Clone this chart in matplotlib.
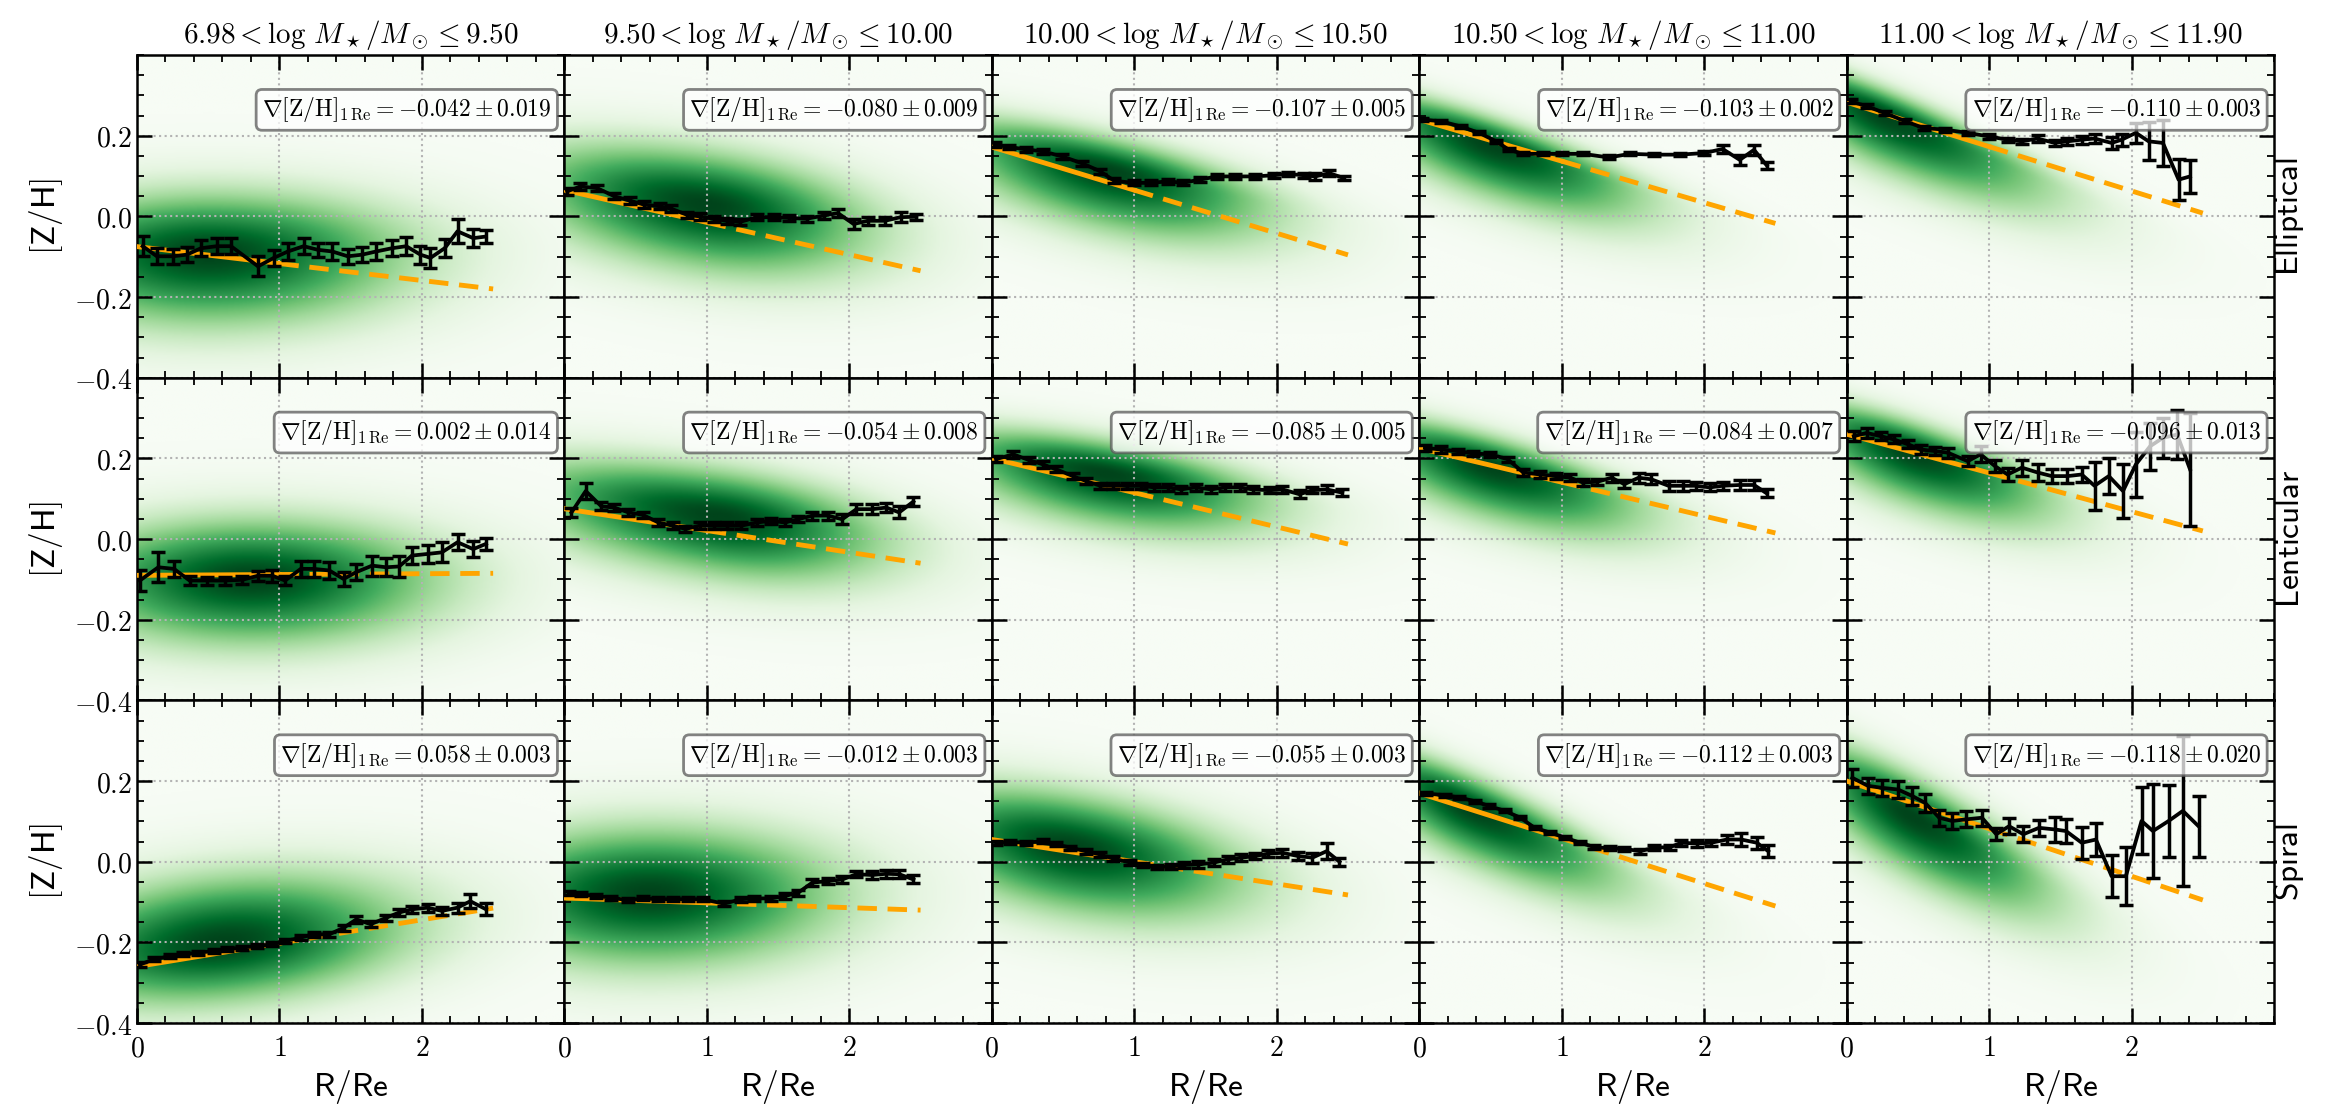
import numpy as np
import matplotlib
matplotlib.use('Agg')
import matplotlib.pyplot as plt
from matplotlib.ticker import MultipleLocator, FixedLocator, FuncFormatter

plt.rcParams['mathtext.fontset'] = 'cm'

mass_edges = ['6.98', '9.50', '10.00', '10.50', '11.00', '11.90']
morph = ['Elliptical', 'Lenticular', 'Spiral']

# gradient within 1 Re (slope of the orange fit) and its error
grad = [[-0.042, -0.080, -0.107, -0.103, -0.110],
        [0.002, -0.054, -0.085, -0.084, -0.096],
        [0.058, -0.012, -0.055, -0.112, -0.118]]
grad_err = [[0.019, 0.009, 0.005, 0.002, 0.003],
            [0.014, 0.008, 0.005, 0.007, 0.013],
            [0.003, 0.003, 0.003, 0.003, 0.020]]
# fit value at R = 0
fit_zero = [[-0.075, 0.065, 0.172, 0.240, 0.283],
            [-0.090, 0.075, 0.200, 0.225, 0.260],
            [-0.260, -0.090, 0.055, 0.170, 0.200]]

# median profiles
ell_x = [[0.04, 0.14, 0.25, 0.35, 0.45, 0.56, 0.66, 0.85, 0.96, 1.06, 1.17, 1.27, 1.37, 1.48, 1.58, 1.68, 1.79, 1.89, 1.99, 2.06, 2.16, 2.25, 2.36, 2.45],
         [0.02, 0.11, 0.23, 0.35, 0.46, 0.56, 0.67, 0.75, 0.86, 0.95, 1.05, 1.14, 1.23, 1.35, 1.47, 1.58, 1.70, 1.82, 1.92, 2.03, 2.13, 2.25, 2.36, 2.47],
         [0.02, 0.12, 0.24, 0.36, 0.49, 0.63, 0.76, 0.86, 1.0, 1.12, 1.24, 1.34, 1.46, 1.58, 1.71, 1.85, 1.98, 2.08, 2.19, 2.27, 2.37, 2.47],
         [0.02, 0.15, 0.29, 0.42, 0.54, 0.63, 0.73, 0.87, 1.0, 1.15, 1.33, 1.48, 1.65, 1.83, 2.0, 2.13, 2.25, 2.35, 2.44],
         [0.03, 0.14, 0.27, 0.41, 0.54, 0.69, 0.85, 1.0, 1.13, 1.23, 1.34, 1.46, 1.55, 1.65, 1.74, 1.86, 1.93, 2.03, 2.12, 2.22, 2.33, 2.41]]
ell_y = [[-0.074, -0.099, -0.099, -0.095, -0.079, -0.074, -0.074, -0.124, -0.103, -0.087, -0.074, -0.083, -0.087, -0.099, -0.095, -0.087, -0.079, -0.074, -0.095, -0.103, -0.079, -0.037, -0.054, -0.050],
         [0.062, 0.074, 0.070, 0.050, 0.039, 0.029, 0.025, 0.019, 0.004, 0.0, -0.006, -0.011, -0.014, -0.002, -0.002, -0.004, -0.006, 0.002, 0.008, -0.019, -0.011, -0.011, -0.002, -0.001],
         [0.178, 0.172, 0.166, 0.161, 0.149, 0.132, 0.112, 0.088, 0.083, 0.083, 0.087, 0.083, 0.091, 0.099, 0.099, 0.099, 0.102, 0.105, 0.102, 0.099, 0.107, 0.095],
         [0.240, 0.236, 0.223, 0.207, 0.186, 0.165, 0.155, 0.155, 0.155, 0.155, 0.146, 0.155, 0.153, 0.153, 0.157, 0.167, 0.140, 0.165, 0.126],
         [0.285, 0.273, 0.256, 0.236, 0.219, 0.215, 0.207, 0.198, 0.190, 0.186, 0.193, 0.182, 0.186, 0.190, 0.193, 0.182, 0.190, 0.207, 0.186, 0.182, 0.091, 0.099]]
ell_e = [[0.025, 0.02, 0.018, 0.018, 0.02, 0.02, 0.02, 0.025, 0.02, 0.02, 0.02, 0.018, 0.02, 0.018, 0.018, 0.02, 0.02, 0.022, 0.022, 0.025, 0.022, 0.03, 0.022, 0.015],
         [0.008, 0.008, 0.008, 0.008, 0.008, 0.008, 0.008, 0.008, 0.008, 0.008, 0.008, 0.008, 0.008, 0.008, 0.008, 0.008, 0.008, 0.008, 0.01, 0.012, 0.01, 0.01, 0.012, 0.008],
         [0.006, 0.006, 0.006, 0.006, 0.006, 0.006, 0.006, 0.006, 0.006, 0.006, 0.006, 0.006, 0.006, 0.006, 0.006, 0.006, 0.006, 0.006, 0.006, 0.008, 0.008, 0.006],
         [0.004, 0.004, 0.004, 0.004, 0.004, 0.004, 0.004, 0.004, 0.004, 0.004, 0.005, 0.004, 0.004, 0.004, 0.005, 0.01, 0.012, 0.013, 0.009],
         [0.005, 0.005, 0.005, 0.005, 0.005, 0.005, 0.005, 0.005, 0.005, 0.006, 0.008, 0.008, 0.008, 0.010, 0.010, 0.015, 0.015, 0.025, 0.047, 0.058, 0.05, 0.041]]

len_x = [[0.02, 0.15, 0.26, 0.37, 0.49, 0.62, 0.74, 0.85, 0.95, 1.04, 1.15, 1.24, 1.35, 1.45, 1.54, 1.65, 1.75, 1.84, 1.93, 2.04, 2.14, 2.25, 2.36, 2.45],
         [0.05, 0.15, 0.26, 0.35, 0.45, 0.55, 0.66, 0.76, 0.85, 0.95, 1.05, 1.14, 1.24, 1.35, 1.45, 1.55, 1.64, 1.74, 1.85, 1.95, 2.05, 2.16, 2.26, 2.35, 2.45],
         [0.03, 0.15, 0.26, 0.36, 0.45, 0.57, 0.66, 0.76, 0.85, 0.95, 1.05, 1.14, 1.24, 1.33, 1.43, 1.54, 1.64, 1.74, 1.83, 1.95, 2.04, 2.16, 2.25, 2.35, 2.46],
         [0.04, 0.15, 0.27, 0.38, 0.5, 0.62, 0.73, 0.85, 0.96, 1.06, 1.15, 1.25, 1.35, 1.44, 1.54, 1.63, 1.75, 1.85, 1.94, 2.04, 2.13, 2.25, 2.35, 2.44],
         [0.05, 0.14, 0.24, 0.33, 0.43, 0.52, 0.62, 0.71, 0.85, 0.94, 1.04, 1.13, 1.23, 1.34, 1.44, 1.55, 1.65, 1.74, 1.84, 1.94, 2.03, 2.13, 2.22, 2.32, 2.41]]
len_y = [[-0.103, -0.070, -0.074, -0.103, -0.103, -0.103, -0.101, -0.091, -0.091, -0.103, -0.074, -0.074, -0.078, -0.099, -0.082, -0.066, -0.070, -0.068, -0.041, -0.037, -0.033, -0.008, -0.025, -0.012],
         [0.066, 0.119, 0.081, 0.078, 0.066, 0.060, 0.041, 0.033, 0.025, 0.033, 0.033, 0.033, 0.033, 0.041, 0.045, 0.041, 0.049, 0.058, 0.058, 0.049, 0.074, 0.074, 0.078, 0.066, 0.093],
         [0.198, 0.210, 0.196, 0.185, 0.173, 0.156, 0.144, 0.132, 0.132, 0.132, 0.132, 0.128, 0.128, 0.123, 0.128, 0.123, 0.128, 0.128, 0.123, 0.121, 0.123, 0.111, 0.121, 0.123, 0.115],
         [0.226, 0.222, 0.218, 0.212, 0.210, 0.198, 0.165, 0.160, 0.156, 0.152, 0.140, 0.142, 0.152, 0.136, 0.152, 0.148, 0.132, 0.132, 0.132, 0.128, 0.132, 0.134, 0.134, 0.113],
         [0.255, 0.263, 0.255, 0.247, 0.235, 0.222, 0.218, 0.214, 0.193, 0.210, 0.181, 0.160, 0.177, 0.165, 0.156, 0.156, 0.160, 0.132, 0.156, 0.119, 0.185, 0.230, 0.251, 0.259, 0.173]]
len_e = [[0.025, 0.037, 0.02, 0.012, 0.01, 0.01, 0.01, 0.012, 0.015, 0.012, 0.02, 0.02, 0.02, 0.018, 0.02, 0.025, 0.022, 0.025, 0.02, 0.022, 0.025, 0.02, 0.02, 0.015],
         [0.012, 0.02, 0.01, 0.008, 0.008, 0.008, 0.008, 0.008, 0.008, 0.008, 0.008, 0.008, 0.008, 0.008, 0.008, 0.008, 0.008, 0.01, 0.01, 0.012, 0.012, 0.012, 0.012, 0.015, 0.01],
         [0.008, 0.008, 0.008, 0.008, 0.008, 0.008, 0.008, 0.008, 0.008, 0.008, 0.008, 0.008, 0.008, 0.008, 0.008, 0.008, 0.008, 0.008, 0.008, 0.008, 0.008, 0.01, 0.008, 0.01, 0.008],
         [0.008, 0.008, 0.006, 0.006, 0.006, 0.006, 0.008, 0.008, 0.008, 0.008, 0.008, 0.008, 0.01, 0.01, 0.012, 0.012, 0.012, 0.012, 0.01, 0.01, 0.01, 0.012, 0.012, 0.01],
         [0.012, 0.012, 0.01, 0.01, 0.01, 0.01, 0.01, 0.012, 0.012, 0.02, 0.015, 0.015, 0.02, 0.02, 0.018, 0.018, 0.018, 0.06, 0.045, 0.068, 0.08, 0.058, 0.05, 0.06, 0.14]]

spi_x = [[0.02, 0.12, 0.23, 0.32, 0.43, 0.54, 0.63, 0.74, 0.84, 0.95, 1.04, 1.15, 1.24, 1.35, 1.45, 1.54, 1.64, 1.75, 1.84, 1.93, 2.04, 2.14, 2.25, 2.34, 2.45],
         [0.03, 0.12, 0.22, 0.33, 0.45, 0.55, 0.66, 0.76, 0.87, 0.97, 1.12, 1.24, 1.33, 1.45, 1.55, 1.64, 1.74, 1.85, 1.95, 2.05, 2.16, 2.26, 2.35, 2.45],
         [0.03, 0.13, 0.24, 0.36, 0.45, 0.55, 0.66, 0.76, 0.85, 0.97, 1.06, 1.16, 1.26, 1.35, 1.45, 1.56, 1.66, 1.75, 1.85, 1.94, 2.04, 2.15, 2.25, 2.35, 2.44],
         [0.05, 0.18, 0.28, 0.39, 0.49, 0.6, 0.71, 0.81, 0.92, 1.02, 1.13, 1.23, 1.34, 1.44, 1.55, 1.65, 1.76, 1.84, 1.95, 2.05, 2.16, 2.26, 2.37, 2.45],
         [0.04, 0.15, 0.25, 0.36, 0.46, 0.55, 0.65, 0.74, 0.84, 0.95, 1.05, 1.14, 1.24, 1.35, 1.46, 1.54, 1.65, 1.75, 1.86, 1.96, 2.07, 2.15, 2.26, 2.36, 2.47]]
spi_y = [[-0.255, -0.242, -0.234, -0.230, -0.226, -0.221, -0.217, -0.213, -0.209, -0.205, -0.197, -0.188, -0.180, -0.180, -0.164, -0.143, -0.155, -0.139, -0.126, -0.118, -0.114, -0.122, -0.114, -0.098, -0.118],
         [-0.077, -0.081, -0.085, -0.089, -0.096, -0.091, -0.093, -0.093, -0.093, -0.093, -0.104, -0.093, -0.091, -0.091, -0.085, -0.077, -0.052, -0.048, -0.044, -0.031, -0.033, -0.030, -0.031, -0.044],
         [0.047, 0.049, 0.047, 0.051, 0.043, 0.035, 0.026, 0.018, 0.008, -0.002, -0.008, -0.013, -0.012, -0.008, -0.007, -0.002, 0.006, 0.010, 0.014, 0.020, 0.022, 0.014, 0.010, 0.026, 0.0],
         [0.169, 0.165, 0.159, 0.150, 0.138, 0.126, 0.109, 0.084, 0.072, 0.060, 0.047, 0.036, 0.033, 0.032, 0.026, 0.035, 0.036, 0.047, 0.045, 0.047, 0.055, 0.055, 0.047, 0.026],
         [0.208, 0.188, 0.183, 0.179, 0.163, 0.146, 0.109, 0.101, 0.105, 0.109, 0.068, 0.088, 0.068, 0.084, 0.080, 0.076, 0.047, 0.055, -0.036, -0.036, 0.101, 0.076, 0.101, 0.126, 0.088]]
spi_e = [[0.006, 0.005, 0.005, 0.005, 0.005, 0.005, 0.005, 0.005, 0.005, 0.005, 0.005, 0.006, 0.006, 0.006, 0.008, 0.008, 0.008, 0.008, 0.008, 0.008, 0.01, 0.01, 0.012, 0.018, 0.015],
         [0.005, 0.005, 0.005, 0.005, 0.005, 0.005, 0.005, 0.005, 0.005, 0.005, 0.006, 0.006, 0.006, 0.006, 0.008, 0.008, 0.008, 0.008, 0.008, 0.008, 0.01, 0.01, 0.01, 0.01],
         [0.005, 0.005, 0.005, 0.005, 0.005, 0.005, 0.006, 0.006, 0.006, 0.006, 0.006, 0.006, 0.006, 0.008, 0.008, 0.008, 0.008, 0.008, 0.008, 0.008, 0.01, 0.01, 0.012, 0.02, 0.01],
         [0.004, 0.004, 0.004, 0.004, 0.004, 0.004, 0.004, 0.004, 0.004, 0.004, 0.004, 0.005, 0.005, 0.005, 0.006, 0.006, 0.006, 0.008, 0.008, 0.008, 0.012, 0.015, 0.015, 0.015],
         [0.023, 0.02, 0.02, 0.02, 0.022, 0.022, 0.02, 0.02, 0.02, 0.02, 0.015, 0.02, 0.02, 0.02, 0.03, 0.03, 0.04, 0.04, 0.052, 0.072, 0.083, 0.116, 0.09, 0.186, 0.076]]

# shape of the background density: ridge y = a + b*R, spread above/below,
# R of the peak and the falloff to the left/right of it
ridge_a = [[-0.09, 0.08, 0.18, 0.24, 0.29], [-0.10, 0.11, 0.21, 0.23, 0.27], [-0.22, -0.08, 0.07, 0.19, 0.20]]
ridge_b = [[0.0, -0.05, -0.08, -0.12, -0.15], [0.0, -0.05, -0.06, -0.10, -0.12], [0.03, 0.0, -0.06, -0.16, -0.19]]
width_up = [[0.09, 0.08, 0.05, 0.04, 0.04], [0.09, 0.07, 0.05, 0.045, 0.045], [0.10, 0.10, 0.08, 0.05, 0.06]]
width_dn = [[0.11, 0.10, 0.09, 0.08, 0.08], [0.10, 0.09, 0.08, 0.08, 0.08], [0.09, 0.11, 0.10, 0.08, 0.09]]
peak_r = [[0.5, 1.0, 0.8, 0.5, 0.25], [0.8, 1.1, 0.8, 0.5, 0.45], [0.6, 0.6, 0.55, 0.35, 0.45]]
fall_l = [[0.8, 0.8, 0.7, 0.6, 0.5], [0.8, 0.9, 0.7, 0.6, 0.5], [0.8, 0.8, 0.7, 0.5, 0.5]]
fall_r = [[0.85, 0.7, 0.7, 0.65, 0.7], [0.8, 0.7, 0.7, 0.65, 0.6], [0.8, 0.8, 0.75, 0.65, 0.6]]

prof_x = [ell_x, len_x, spi_x]
prof_y = [ell_y, len_y, spi_y]
prof_e = [ell_e, len_e, spi_e]

fig, axes = plt.subplots(3, 5, figsize=(23.41, 11.16), dpi=100, sharex=True, sharey=True)
fig.subplots_adjust(left=0.0585, right=0.9714, top=0.9507, bottom=0.0833, wspace=0, hspace=0)

gx = np.linspace(0, 3, 300)
gy = np.linspace(-0.4, 0.4, 240)
GX, GY = np.meshgrid(gx, gy)

for i in range(3):
    for j in range(5):
        ax = axes[i, j]

        # density background
        sx = np.where(GX < peak_r[i][j], fall_l[i][j], fall_r[i][j])
        dy = GY - (ridge_a[i][j] + ridge_b[i][j] * GX)
        sy = np.where(dy > 0, width_up[i][j], width_dn[i][j])
        dens = np.exp(-0.5 * ((GX - peak_r[i][j]) / sx) ** 2) * np.exp(-0.5 * (dy / sy) ** 2)
        ax.imshow(dens ** 0.75, origin='lower', extent=[0, 3, -0.4, 0.4], aspect='auto',
                  cmap='Greens', vmin=0, vmax=1.0, interpolation='bilinear', zorder=0)

        # fitted gradient: solid inside 1 Re, dashed beyond
        r_in = np.array([0, 1.0])
        r_out = np.array([1.0, 2.5])
        ax.plot(r_in, fit_zero[i][j] + grad[i][j] * r_in, color='orange', lw=3.5, zorder=3)
        ax.plot(r_out, fit_zero[i][j] + grad[i][j] * r_out, color='orange', lw=3.5,
                ls=(0, (4, 2.2)), zorder=3)

        ax.errorbar(prof_x[i][j], prof_y[i][j], yerr=prof_e[i][j], color='black', lw=2.7,
                    elinewidth=2.5, capsize=5, capthick=2.5, zorder=4)

        txt = r'$\nabla[\mathrm{Z/H}]_{1\,\mathrm{Re}} = %.3f \pm %.3f$' % (grad[i][j], grad_err[i][j])
        ax.text(0.97, 0.83, txt, transform=ax.transAxes, ha='right', va='center', fontsize=17,
                zorder=6, bbox=dict(boxstyle='round,pad=0.25', facecolor='white', alpha=0.75,
                                    edgecolor='0.35', lw=2))

        ax.set_xlim(0, 3)
        ax.set_ylim(-0.4, 0.4)
        ax.xaxis.set_major_locator(FixedLocator([0, 1, 2]))
        ax.xaxis.set_minor_locator(MultipleLocator(0.2))
        ax.yaxis.set_major_locator(FixedLocator([-0.4, -0.2, 0.0, 0.2]))
        ax.yaxis.set_minor_locator(MultipleLocator(0.05))
        ax.xaxis.set_major_formatter(FuncFormatter(lambda v, p: r'$%d$' % round(v)))
        ax.yaxis.set_major_formatter(FuncFormatter(lambda v, p: r'$%.1f$' % (0.0 if abs(v) < 1e-9 else v)))
        ax.tick_params(which='both', direction='in', top=True, right=True, labelsize=20, width=1.8)
        ax.tick_params(which='major', length=11)
        ax.tick_params(which='minor', length=5, width=1.3)
        ax.tick_params(axis='x', pad=8)
        ax.grid(True, which='major', ls=':', color='0.7', lw=1.5)
        for s in ax.spines.values():
            s.set_linewidth(1.8)

        if i == 0:
            ax.set_title(r'$%s < \log\,M_\star/M_\odot \leq %s$' % (mass_edges[j], mass_edges[j + 1]),
                         fontsize=21, pad=9)
        if j == 0:
            ax.set_ylabel(r'$\mathsf{[Z/H]}$', fontsize=24, labelpad=6)
        if i == 2:
            ax.set_xlabel(r'$\mathsf{R/Re}$', fontsize=24)
        if j == 4:
            ax.text(1.035, 0.5, r'$\mathsf{%s}$' % morph[i], transform=ax.transAxes, rotation=90,
                    ha='center', va='center', fontsize=24)

fig.savefig('out.png', dpi=100)
